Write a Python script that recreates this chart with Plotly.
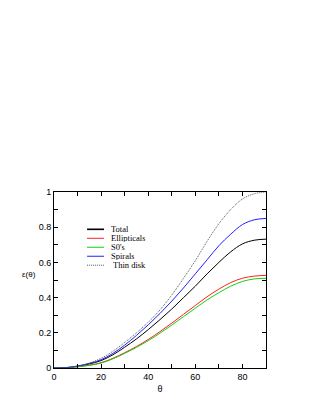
import plotly.graph_objects as go

# inclination angle (degrees)
theta = [0, 5, 10, 15, 20, 25, 30, 35, 40, 45, 50, 55, 60, 65, 70, 75, 80, 85, 90]

# values
total = [0, 0.002, 0.010, 0.023, 0.042, 0.075, 0.118, 0.165, 0.218, 0.275, 0.335,
         0.400, 0.465, 0.535, 0.600, 0.660, 0.705, 0.726, 0.732]
ellipticals = [0, 0.001, 0.007, 0.016, 0.030, 0.055, 0.087, 0.122, 0.162, 0.207, 0.255,
               0.305, 0.355, 0.405, 0.448, 0.485, 0.510, 0.522, 0.526]
s0s = [0, 0.001, 0.007, 0.015, 0.028, 0.052, 0.083, 0.117, 0.155, 0.198, 0.244,
       0.292, 0.340, 0.387, 0.428, 0.465, 0.492, 0.506, 0.510]
spirals = [0, 0.002, 0.011, 0.026, 0.047, 0.083, 0.130, 0.185, 0.245, 0.310, 0.380,
           0.455, 0.535, 0.615, 0.695, 0.760, 0.815, 0.842, 0.850]
thin_disk = [0, 0.002, 0.011, 0.028, 0.055, 0.095, 0.145, 0.200, 0.260, 0.330, 0.415,
             0.510, 0.610, 0.720, 0.820, 0.900, 0.960, 0.990, 1.000]

series = [
    ("Total", total, "black", "solid"),
    ("Ellipticals", ellipticals, "#ff2020", "solid"),
    ("S0's", s0s, "#10d010", "solid"),
    ("Spirals", spirals, "#2020ff", "solid"),
    ("Thin disk", thin_disk, "#555555", "1px,1px"),
]

fig = go.Figure()
for name, vals, color, dash in series:
    fig.add_trace(go.Scatter(x=theta, y=vals, mode="lines", name=name,
                             line=dict(color=color, width=1, dash=dash, shape="spline")))

# hand-drawn legend (compact, like the original)
shapes = []
annotations = []
leg_y = [0.788, 0.737, 0.686, 0.635, 0.584]
for (name, vals, color, dash), yy in zip(series, leg_y):
    shapes.append(dict(type="line", xref="paper", yref="paper", x0=0.156, x1=0.236,
                       y0=yy, y1=yy,
                       line=dict(color=color, width=1.6 if name == "Total" else 1, dash=dash)))
    annotations.append(dict(xref="paper", yref="paper", x=0.262 if name != "Thin disk" else 0.275,
                            y=yy, text=name, showarrow=False, xanchor="left", yanchor="middle",
                            height=8, borderpad=0,
                            font=dict(family="Liberation Serif", size=8.5, color="black")))

annotations.append(dict(xref="paper", yref="paper", x=-0.118, y=0.53, text="ε(θ)",
                        showarrow=False, xanchor="center", yanchor="middle",
                        font=dict(family="Liberation Sans", size=8, color="black")))

axis_common = dict(showgrid=False, zeroline=False, showline=True, mirror="allticks",
                   linecolor="black", linewidth=1, ticks="inside", ticklen=4,
                   tickcolor="black", tickfont=dict(family="Liberation Sans", size=9, color="black"))

# the page body adds an 8px offset, so the figure is drawn 8px smaller
fig.update_layout(
    width=313, height=407,
    margin=dict(l=46, r=55, t=184, b=47),
    plot_bgcolor="white", paper_bgcolor="white",
    showlegend=False,
    shapes=shapes,
    annotations=annotations,
    xaxis=dict(range=[0, 90], dtick=20, tick0=0,
               minor=dict(dtick=10, ticks="inside", ticklen=4, tickcolor="black"),
               title=dict(text="θ", font=dict(family="Liberation Sans", size=9, color="black"),
                          standoff=4),
               **axis_common),
    yaxis=dict(range=[0, 1], dtick=0.2, tick0=0,
               minor=dict(dtick=0.1, ticks="inside", ticklen=4, tickcolor="black"),
               **axis_common),
)

fig.write_html("out.html")
